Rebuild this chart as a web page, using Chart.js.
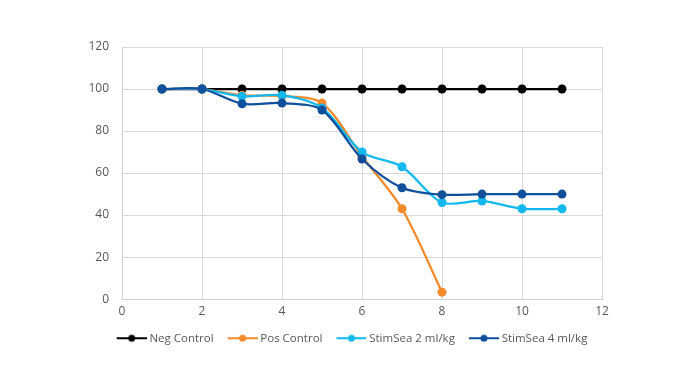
<!DOCTYPE html>
<html>
<head>
<meta charset="utf-8">
<script src="https://cdn.jsdelivr.net/npm/chart.js@4/dist/chart.umd.min.js"></script>
<style>
  html, body { margin: 0; padding: 0; background: #fff; }
  #wrap { width: 695px; height: 390px; }
</style>
</head>
<body>
<div id="wrap"><canvas id="c" width="695" height="390"></canvas></div>
<script>
// x values (days) and series values
const days = [1, 2, 3, 4, 5, 6, 7, 8, 9, 10, 11];
const negControl = [100, 100, 100, 100, 100, 100, 100, 100, 100, 100, 100];
const posControl = [100, 100, 97, 96.7, 93.3, 68, 43, 3.3];
const stim2 = [100, 100, 96.5, 97, 91, 70, 63, 46, 46.7, 43, 43];
const stim4 = [100, 100, 93, 93.3, 90, 66.7, 53, 49.7, 50, 50, 50];

const seriesNames = ["Neg Control", "Pos Control", "StimSea 2 ml/kg", "StimSea 4 ml/kg"];
const seriesColors = ["#000000", "#f58a2a", "#12b8ee", "#0f4f9c"];
const seriesValues = [negControl, posControl, stim2, stim4];

// line+dot swatch for the legend; wider than the box so the text sits close
function swatch(color) {
  const cv = document.createElement("canvas");
  cv.width = 33; cv.height = 10;
  const g = cv.getContext("2d");
  g.strokeStyle = color; g.lineWidth = 2;
  g.beginPath(); g.moveTo(3, 5); g.lineTo(33, 5); g.stroke();
  g.fillStyle = color;
  g.beginPath(); g.arc(18, 5, 3.5, 0, Math.PI * 2); g.fill();
  return cv;
}

const datasets = seriesNames.map((name, i) => ({
  label: name,
  data: seriesValues[i].map((v, k) => ({ x: days[k], y: v })),
  borderColor: seriesColors[i],
  backgroundColor: seriesColors[i],
  borderWidth: 2.25,
  pointRadius: 4.5,
  pointHoverRadius: 4.5,
  pointBorderWidth: 0,
  tension: 0.3,
  showLine: true,
  order: 3 - i, // later series sit on top, like the original
  legendSwatch: swatch(seriesColors[i])
}));

// legend in the original is centred under the whole picture, not the left part
const shiftLegend = {
  id: "shiftLegend",
  afterLayout(chart) {
    const lg = chart.legend;
    if (lg) {
      lg.left += 51; lg.right += 51;
      lg.top -= 5; lg.bottom -= 5;
    }
  }
};

new Chart(document.getElementById("c"), {
  type: "scatter",
  data: { datasets },
  plugins: [shiftLegend],
  options: {
    responsive: false,
    animation: false,
    layout: { padding: { left: 0, right: 93, top: 47, bottom: 31 } },
    scales: {
      x: {
        type: "linear", min: 0, max: 12,
        ticks: { stepSize: 2, color: "#595959", font: { family: "Open Sans", size: 12 }, padding: 5 },
        grid: { color: "#d9d9d9", lineWidth: 1, drawTicks: false },
        border: { color: "#d0d0d0" }
      },
      y: {
        min: 0, max: 120,
        ticks: { stepSize: 20, color: "#595959", font: { family: "Open Sans", size: 12 }, padding: 13 },
        grid: { color: "#d9d9d9", lineWidth: 1, drawTicks: false },
        border: { color: "#d0d0d0" },
        afterFit: (s) => { s.width = 122; }
      }
    },
    plugins: {
      tooltip: { enabled: false },
      legend: {
        position: "bottom",
        labels: {
          usePointStyle: true,
          pointStyleWidth: 27,
          color: "#595959",
          font: { family: "Open Sans", size: 11.5 },
          boxHeight: 10, padding: 14,
          generateLabels: (chart) => chart.data.datasets.map((d, i) => ({
            text: d.label,
            pointStyle: d.legendSwatch,
            fillStyle: d.borderColor,
            strokeStyle: d.borderColor,
            fontColor: "#595959",
            lineWidth: 0,
            hidden: false,
            datasetIndex: i
          }))
        }
      }
    }
  }
});
</script>
</body>
</html>
